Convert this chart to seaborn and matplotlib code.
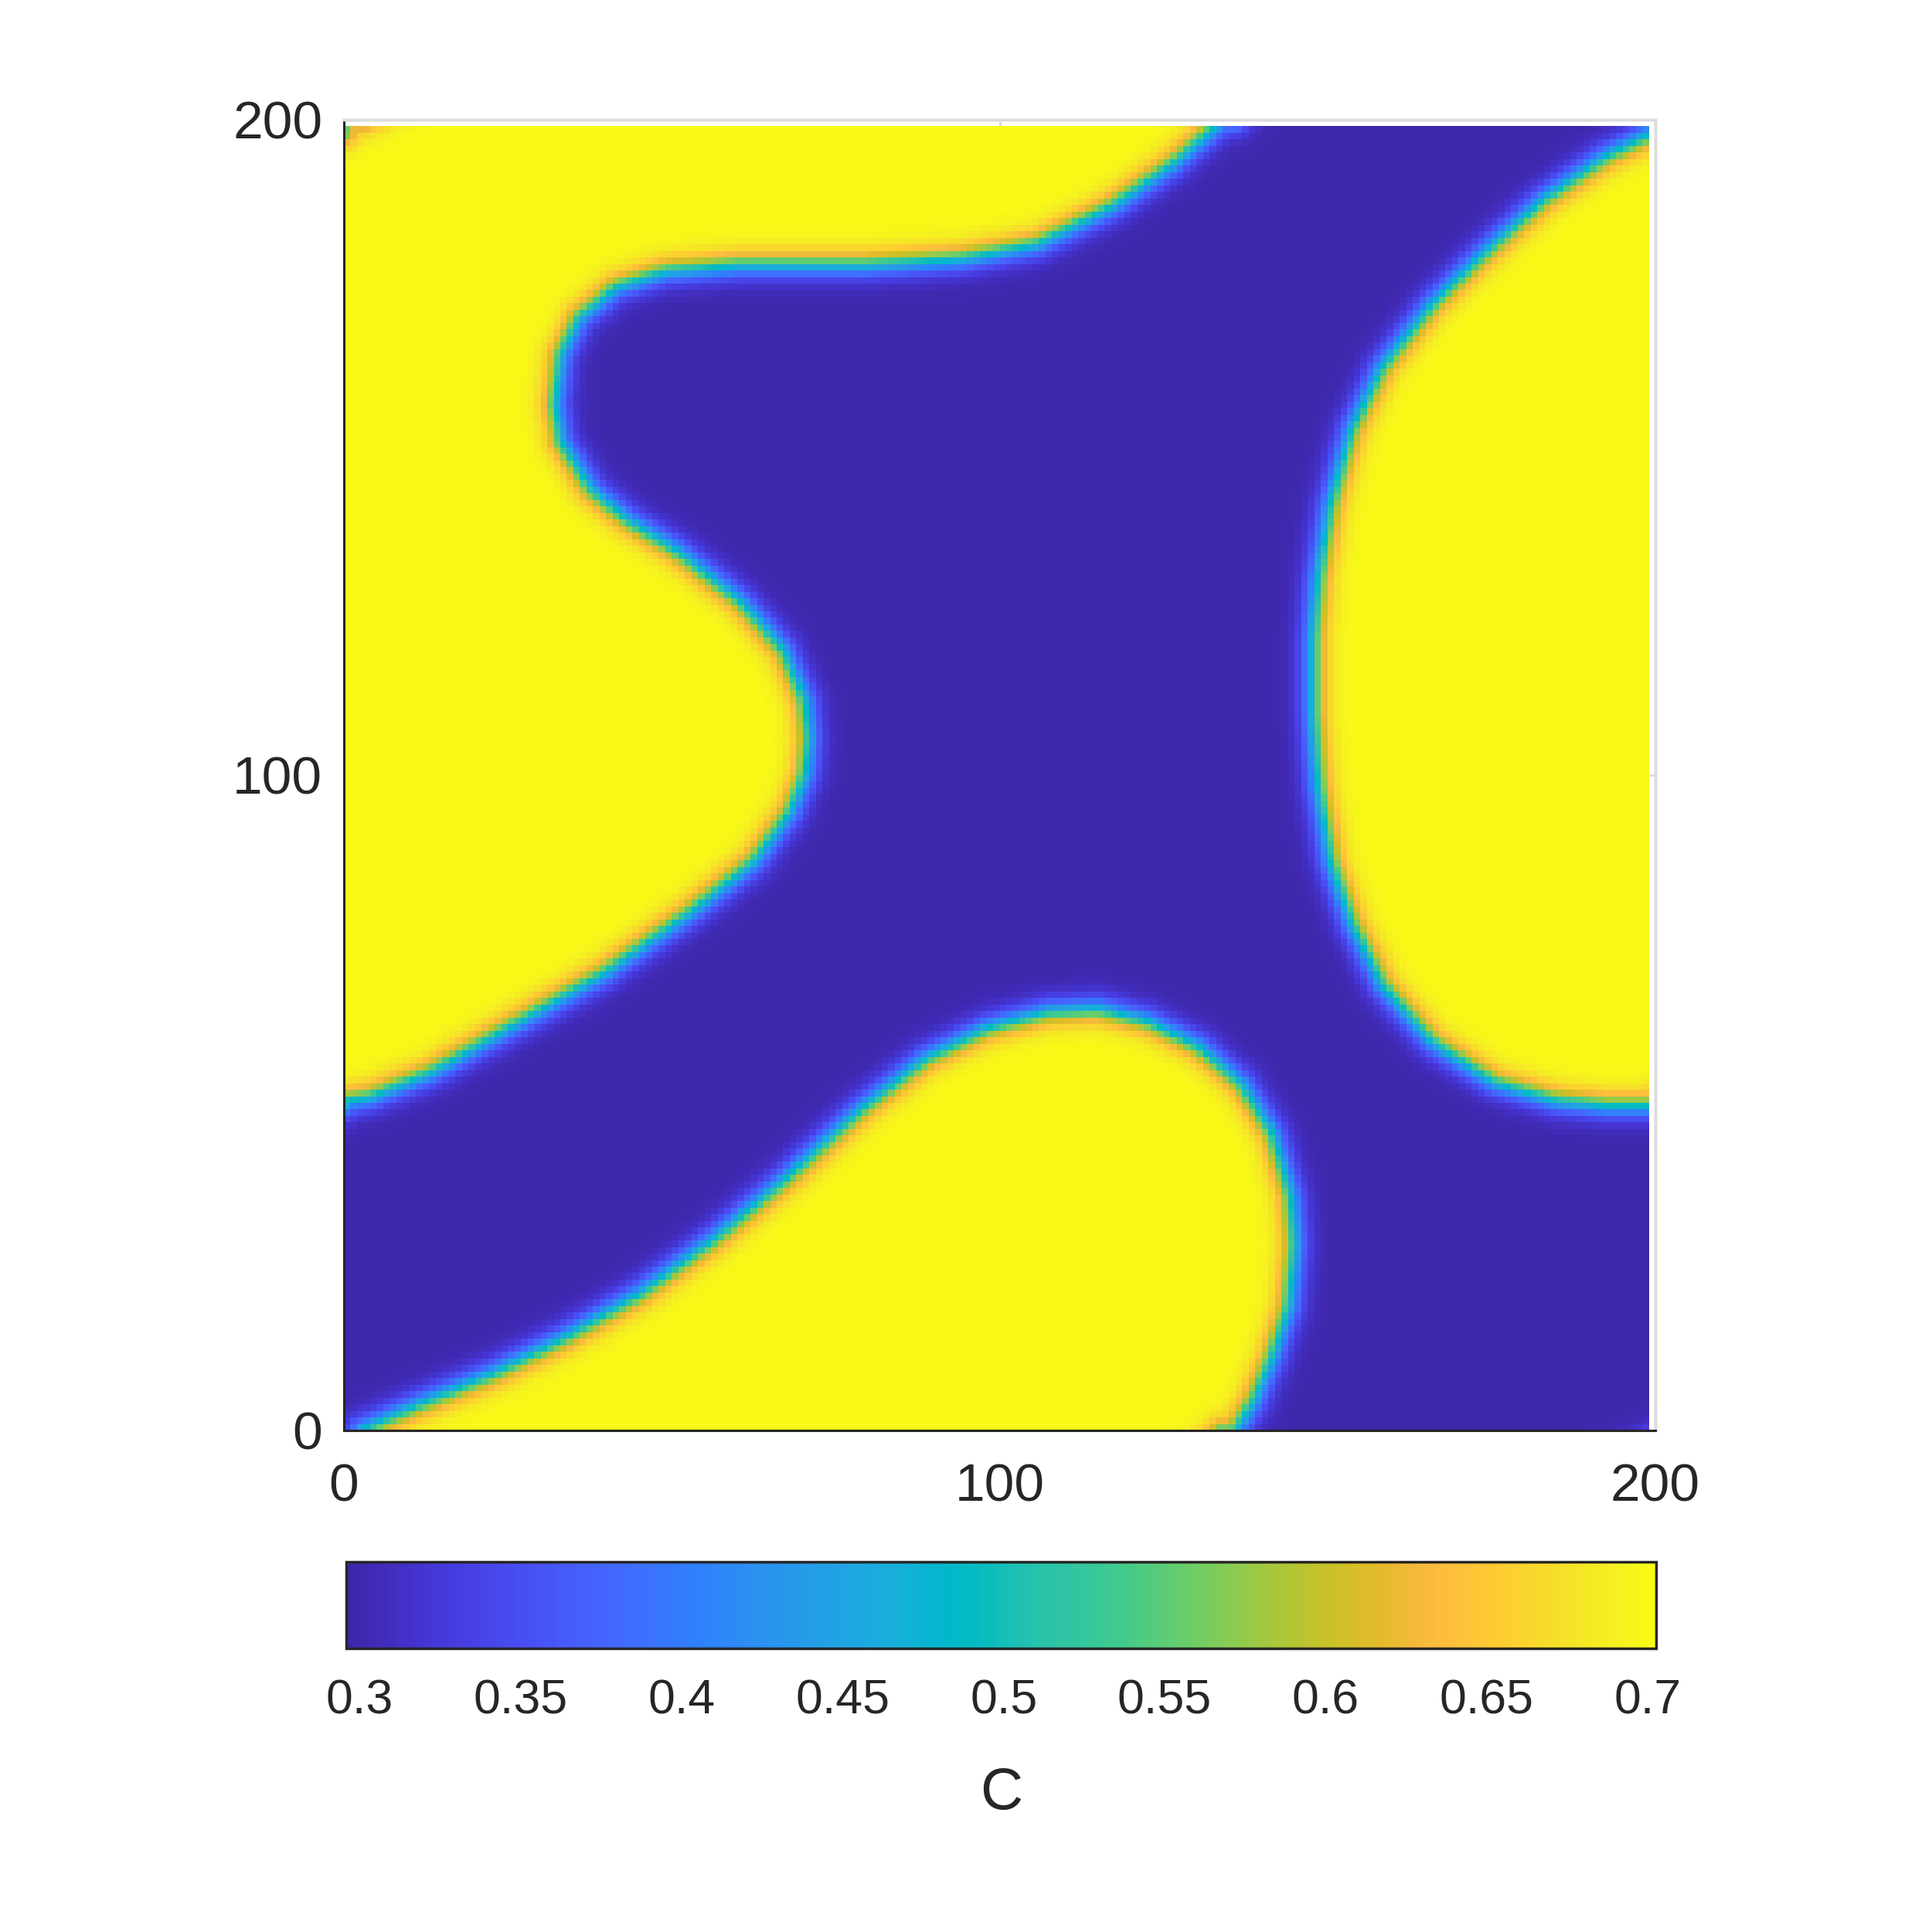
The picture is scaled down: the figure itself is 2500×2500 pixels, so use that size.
import numpy as np
import matplotlib
matplotlib.use("Agg")
import matplotlib.pyplot as plt
import seaborn as sns
from matplotlib.path import Path
from matplotlib.colors import LinearSegmentedColormap

sns.set_theme(style="white")
plt.rcParams["font.family"] = ["Liberation Sans", "DejaVu Sans"]

# ---------------- data ----------------
# Interface outlines of the high-concentration (yellow) domains, in data units
curve_a_x = [134.0, 126.4, 117.0, 105.7, 94.3, 79.2, 60.4, 49.1, 41.5, 35.8, 33.0, 32.1, 33.0, 37.7,
             43.4, 50.9, 60.4, 67.0, 70.2, 70.8, 70.2, 67.9, 62.3, 52.8, 39.6, 26.4, 13.2, 3.8, 0.0]
curve_a_y = [200.0, 193.4, 186.8, 181.1, 178.9, 177.9, 177.9, 177.0, 174.5, 169.8, 164.2, 156.6, 150.9, 143.4,
             138.7, 134.0, 126.4, 118.9, 111.3, 105.7, 100.0, 94.3, 86.8, 79.2, 69.8, 62.3, 54.7, 50.9, 50.4]
curve_b_x = [200.0, 192.5, 183.0, 173.6, 166.0, 158.5, 153.8, 150.6, 148.7, 147.9, 147.9, 148.7, 150.6,
             153.8, 158.5, 166.0, 175.5, 184.9, 192.5, 200.0]
curve_b_y = [198.1, 194.3, 187.7, 179.2, 171.7, 162.3, 152.8, 141.5, 130.2, 120.8, 109.4, 98.1, 86.8,
             77.4, 67.9, 59.4, 53.2, 50.4, 49.6, 49.6]
curve_c_x = [2.8, 11.3, 22.6, 34.0, 45.3, 56.6, 67.9, 79.2, 88.7, 98.1, 107.5, 115.1, 122.6, 130.2,
             136.8, 141.5, 144.3, 144.9, 144.0, 141.5, 138.7, 135.8]
curve_c_y = [0.0, 3.8, 8.5, 14.2, 20.8, 29.2, 38.7, 49.1, 56.6, 61.3, 63.8, 64.2, 62.3, 58.5,
             52.8, 45.3, 35.8, 28.3, 18.9, 11.3, 4.7, 0.0]
# Closing corners (outside the domain) for each yellow domain
close_a = [(-5.0, 50.4), (-5.0, 205.0), (134.0, 205.0)]
close_b = [(205.0, 49.6), (205.0, 198.1)]
close_c = [(135.8, -5.0), (2.8, -5.0)]

c_low = 0.298      # concentration of the blue phase
c_high = 0.701     # concentration of the yellow phase
interface_width = 2.2
n_cells = 199
domain = 200.0

cbar_ticks = [0.3, 0.35, 0.4, 0.45, 0.5, 0.55, 0.6, 0.65, 0.7]
cbar_labels = ["0.3", "0.35", "0.4", "0.45", "0.5", "0.55", "0.6", "0.65", "0.7"]
c_min, c_max = 0.2959, 0.7026
axis_ticks = [0, 100, 200]
axis_labels = ["0", "100", "200"]
cbar_title = "C"

# MATLAB parula colormap
parula_rgb = [
    [0.2422, 0.1504, 0.6603], [0.2504, 0.1650, 0.7076], [0.2578, 0.1818, 0.7511], [0.2647, 0.1978, 0.7952],
    [0.2706, 0.2147, 0.8364], [0.2751, 0.2342, 0.8710], [0.2783, 0.2559, 0.8991], [0.2803, 0.2782, 0.9221],
    [0.2813, 0.3006, 0.9414], [0.2810, 0.3228, 0.9579], [0.2795, 0.3447, 0.9717], [0.2760, 0.3667, 0.9829],
    [0.2699, 0.3892, 0.9906], [0.2602, 0.4123, 0.9952], [0.2440, 0.4358, 0.9988], [0.2206, 0.4603, 0.9973],
    [0.1963, 0.4847, 0.9892], [0.1834, 0.5074, 0.9798], [0.1786, 0.5289, 0.9682], [0.1764, 0.5499, 0.9520],
    [0.1687, 0.5703, 0.9359], [0.1540, 0.5902, 0.9218], [0.1460, 0.6091, 0.9079], [0.1380, 0.6276, 0.8973],
    [0.1248, 0.6459, 0.8883], [0.1113, 0.6635, 0.8763], [0.0952, 0.6798, 0.8598], [0.0689, 0.6948, 0.8394],
    [0.0297, 0.7082, 0.8163], [0.0036, 0.7203, 0.7917], [0.0067, 0.7312, 0.7660], [0.0433, 0.7411, 0.7394],
    [0.0964, 0.7500, 0.7120], [0.1408, 0.7584, 0.6842], [0.1717, 0.7670, 0.6554], [0.1938, 0.7758, 0.6251],
    [0.2161, 0.7843, 0.5923], [0.2470, 0.7918, 0.5567], [0.2906, 0.7973, 0.5188], [0.3406, 0.8008, 0.4789],
    [0.3909, 0.8029, 0.4354], [0.4456, 0.8024, 0.3909], [0.5044, 0.7993, 0.3480], [0.5616, 0.7942, 0.3045],
    [0.6174, 0.7876, 0.2612], [0.6720, 0.7793, 0.2227], [0.7242, 0.7698, 0.1910], [0.7738, 0.7598, 0.1646],
    [0.8203, 0.7498, 0.1535], [0.8634, 0.7406, 0.1596], [0.9035, 0.7330, 0.1774], [0.9393, 0.7288, 0.2100],
    [0.9728, 0.7298, 0.2394], [0.9956, 0.7434, 0.2371], [0.9970, 0.7659, 0.2199], [0.9952, 0.7893, 0.2028],
    [0.9892, 0.8136, 0.1885], [0.9786, 0.8386, 0.1766], [0.9676, 0.8639, 0.1643], [0.9610, 0.8890, 0.1537],
    [0.9597, 0.9135, 0.1423], [0.9628, 0.9373, 0.1265], [0.9691, 0.9606, 0.1064], [0.9769, 0.9839, 0.0805]]
parula = LinearSegmentedColormap.from_list("parula", parula_rgb, N=256)

# ---------------- build the concentration field from the outlines ----------------
xs = np.arange(n_cells) + 0.5
X, Y = np.meshgrid(xs, xs)
P = np.column_stack([X.ravel(), Y.ravel()])

curves = [np.column_stack([curve_a_x, curve_a_y]),
          np.column_stack([curve_b_x, curve_b_y]),
          np.column_stack([curve_c_x, curve_c_y])]
closes = [close_a, close_b, close_c]

inside = np.zeros(len(P), dtype=bool)
for cv, cl in zip(curves, closes):
    poly = np.vstack([cv, np.array(cl)])
    inside |= Path(poly).contains_points(P)

dmin = np.full(len(P), np.inf)
for cv in curves:
    for sx in (-domain, 0.0, domain):
        for sy in (-domain, 0.0, domain):
            pts = cv + np.array([sx, sy])
            for a, b in zip(pts[:-1], pts[1:]):
                ab = b - a
                t = np.clip(((P - a) @ ab) / (ab @ ab), 0.0, 1.0)
                proj = a + t[:, None] * ab
                d = np.hypot(P[:, 0] - proj[:, 0], P[:, 1] - proj[:, 1])
                dmin = np.minimum(dmin, d)

signed = np.where(inside, dmin, -dmin)
mid = 0.5 * (c_low + c_high)
amp = 0.5 * (c_high - c_low)
field = (mid + amp * np.tanh(signed / interface_width)).reshape(n_cells, n_cells)

# ---------------- figure ----------------
dark = "#262626"
light = "#dcdcdc"
fig = plt.figure(figsize=(25, 25), dpi=100)
ax = fig.add_axes([0.178, 0.2596, 0.6788, 0.6784])
cax = fig.add_axes([0.1792, 0.1468, 0.6780, 0.0448])

sns.heatmap(field, ax=ax, cmap=parula, vmin=c_min, vmax=c_max, cbar=True, cbar_ax=cax,
            cbar_kws={"orientation": "horizontal"}, xticklabels=False, yticklabels=False)

ax.set_xlim(0, 200)
ax.set_ylim(0, 200)
ax.set_xticks(axis_ticks)
ax.set_xticklabels(axis_labels)
ax.set_yticks(axis_ticks)
ax.set_yticklabels(axis_labels, rotation=0)
ax.set_xlabel("")
ax.set_ylabel("")
ax.set_axisbelow(True)
for side in ["left", "bottom"]:
    ax.spines[side].set_visible(True)
    ax.spines[side].set_color(dark)
    ax.spines[side].set_linewidth(2.2)
for side in ["top", "right"]:
    ax.spines[side].set_visible(True)
    ax.spines[side].set_color(light)
    ax.spines[side].set_linewidth(2.5)
ax.tick_params(axis="both", direction="in", length=13, width=2.2, color=dark,
               labelsize=50, labelcolor=dark, bottom=True, left=True, top=False, right=False)
ax.tick_params(axis="x", pad=30)
ax.tick_params(axis="y", pad=20)

secx = ax.secondary_xaxis("top")
secx.set_xticks(axis_ticks)
secx.tick_params(direction="in", length=6, width=2.2, color=light, labeltop=False, labelbottom=False)
secx.spines["top"].set_color(light)
secx.spines["top"].set_linewidth(2.5)
secy = ax.secondary_yaxis("right")
secy.set_yticks(axis_ticks)
secy.tick_params(direction="in", length=6, width=2.2, color=light, labelright=False, labelleft=False)
secy.spines["right"].set_color(light)
secy.spines["right"].set_linewidth(2.5)

cbar = ax.collections[0].colorbar
cbar.set_ticks(cbar_ticks)
cbar.set_ticklabels(cbar_labels)
cbar.outline.set_visible(True)
cbar.outline.set_edgecolor(dark)
cbar.outline.set_linewidth(2.5)
cax.tick_params(axis="x", direction="in", length=14, width=2.0, color=dark, labelsize=45,
                labelcolor=dark, pad=28, bottom=True, top=False)
cbar.set_label(cbar_title, fontsize=55, color=dark, labelpad=40)

fig.savefig("out.png", dpi=100, facecolor="white")
